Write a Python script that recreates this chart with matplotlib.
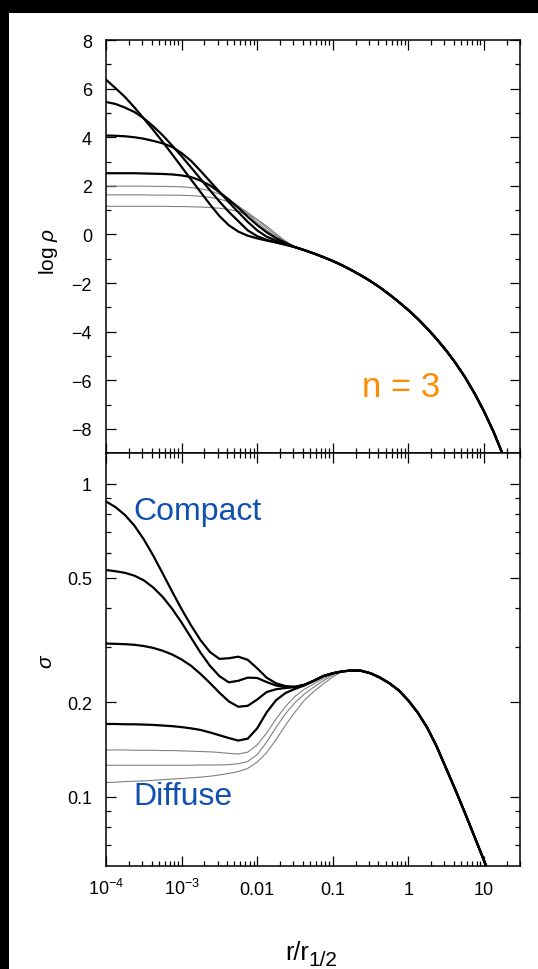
import numpy as np
import matplotlib
matplotlib.use('Agg')
import matplotlib.pyplot as plt
from matplotlib.ticker import FixedLocator, FixedFormatter, NullFormatter, LogLocator
from matplotlib.patches import Rectangle

plt.rcParams['font.family'] = ['Liberation Sans', 'DejaVu Sans']
plt.rcParams['mathtext.fontset'] = 'custom'
plt.rcParams['mathtext.rm'] = 'Liberation Sans'
plt.rcParams['mathtext.it'] = 'Liberation Sans:italic'
plt.rcParams['mathtext.bf'] = 'Liberation Sans:bold'

# ---- density panel: log10(r/r_1/2) where the readings were taken ----
logr_rho_core = [-4.0, -3.875, -3.75, -3.625, -3.5, -3.375, -3.25, -3.125, -3.0, -2.875,
                 -2.75, -2.625, -2.5, -2.375, -2.25, -2.125, -2.0, -1.875, -1.75, -1.625]
rho_A = [6.37, 6.02, 5.66, 5.23, 4.77, 4.30, 3.81, 3.30, 2.78, 2.26,
         1.75, 1.24, 0.76, 0.38, 0.12, -0.05, -0.16, -0.25, -0.33, -0.42]
rho_B = [5.45, 5.37, 5.22, 5.04, 4.78, 4.45, 4.08, 3.66, 3.22, 2.76,
         2.29, 1.82, 1.36, 0.93, 0.55, 0.17, -0.07, -0.22, -0.32, -0.42]
rho_C = [4.07, 4.06, 4.04, 4.00, 3.94, 3.85, 3.75, 3.60, 3.35, 3.03,
         2.62, 2.19, 1.76, 1.33, 0.92, 0.52, 0.17, -0.09, -0.25, -0.38]
rho_D = [2.52, 2.52, 2.52, 2.52, 2.51, 2.50, 2.49, 2.47, 2.43, 2.36,
         2.22, 2.02, 1.74, 1.44, 1.10, 0.73, 0.39, 0.09, -0.15, -0.34]
rho_E = [1.99, 1.99, 1.99, 1.99, 1.99, 1.98, 1.98, 1.97, 1.96, 1.93,
         1.88, 1.80, 1.66, 1.45, 1.17, 0.84, 0.50, 0.18, -0.10, -0.32]
rho_F = [1.63, 1.63, 1.63, 1.63, 1.63, 1.62, 1.62, 1.62, 1.61, 1.60,
         1.57, 1.53, 1.46, 1.34, 1.16, 0.91, 0.61, 0.27, -0.04, -0.30]
rho_G = [1.16, 1.16, 1.16, 1.16, 1.16, 1.16, 1.16, 1.15, 1.15, 1.14,
         1.13, 1.11, 1.08, 1.03, 0.95, 0.82, 0.62, 0.35, 0.03, -0.27]

logr_rho_out = [-1.5, -1.375, -1.25, -1.125, -1.0, -0.875, -0.75, -0.625, -0.5, -0.375,
                -0.25, -0.125, 0.0, 0.125, 0.25, 0.375, 0.5, 0.625, 0.75, 0.875,
                1.0, 1.125, 1.25, 1.375]
rho_out = [-0.52, -0.645, -0.78, -0.93, -1.09, -1.27, -1.47, -1.685, -1.92, -2.18,
           -2.47, -2.78, -3.11, -3.47, -3.87, -4.30, -4.77, -5.29, -5.87, -6.53,
           -7.27, -8.10, -9.05, -10.1]

# ---- dispersion panel: log10(sigma) ----
logr_sig_core = [-4.0, -3.875, -3.75, -3.625, -3.5, -3.375, -3.25, -3.125, -3.0, -2.875,
                 -2.75, -2.625, -2.5, -2.375, -2.25, -2.125, -2.0, -1.875, -1.75, -1.625,
                 -1.5, -1.375, -1.25, -1.125, -1.0]
sig_A = [-0.057, -0.075, -0.100, -0.134, -0.178, -0.230, -0.287, -0.345, -0.401, -0.453,
         -0.500, -0.538, -0.560, -0.558, -0.553, -0.563, -0.590, -0.620, -0.638, -0.647,
         -0.649, -0.643, -0.630, -0.615, -0.606]
sig_B = [-0.276, -0.280, -0.285, -0.294, -0.309, -0.332, -0.362, -0.400, -0.444, -0.492,
         -0.540, -0.582, -0.615, -0.635, -0.630, -0.620, -0.621, -0.634, -0.645, -0.650,
         -0.650, -0.643, -0.630, -0.615, -0.606]
sig_C = [-0.511, -0.512, -0.513, -0.515, -0.519, -0.525, -0.534, -0.546, -0.562, -0.582,
         -0.608, -0.637, -0.668, -0.696, -0.713, -0.710, -0.690, -0.666, -0.657, -0.653,
         -0.650, -0.643, -0.630, -0.615, -0.606]
sig_D = [-0.768, -0.768, -0.769, -0.769, -0.770, -0.771, -0.773, -0.775, -0.778, -0.782,
         -0.787, -0.795, -0.804, -0.813, -0.821, -0.815, -0.782, -0.731, -0.692, -0.669,
         -0.656, -0.645, -0.630, -0.615, -0.606]
sig_E = [-0.851, -0.851, -0.851, -0.852, -0.852, -0.852, -0.853, -0.853, -0.854, -0.855,
         -0.856, -0.857, -0.859, -0.862, -0.864, -0.858, -0.835, -0.797, -0.752, -0.712,
         -0.680, -0.657, -0.640, -0.623, -0.609]
sig_F = [-0.900, -0.900, -0.900, -0.900, -0.900, -0.900, -0.900, -0.900, -0.900, -0.900,
         -0.899, -0.899, -0.899, -0.898, -0.895, -0.888, -0.866, -0.826, -0.779, -0.735,
         -0.700, -0.672, -0.650, -0.630, -0.612]
sig_G = [-0.955, -0.954, -0.952, -0.951, -0.950, -0.948, -0.946, -0.944, -0.942, -0.940,
         -0.938, -0.935, -0.931, -0.926, -0.920, -0.910, -0.890, -0.860, -0.818, -0.772,
         -0.730, -0.692, -0.664, -0.640, -0.618]

logr_sig_out = [-0.875, -0.75, -0.625, -0.5, -0.375, -0.25, -0.125, 0.0, 0.125, 0.25,
                0.375, 0.5, 0.625, 0.75, 0.875, 1.0, 1.125, 1.25]
sig_out = [-0.600, -0.597, -0.598, -0.606, -0.620, -0.638, -0.661, -0.693, -0.732, -0.780,
           -0.840, -0.910, -0.980, -1.053, -1.128, -1.204, -1.280, -1.356]

black_rho = [rho_A, rho_B, rho_C, rho_D]
grey_rho = [rho_E, rho_F, rho_G]
black_sig = [sig_A, sig_B, sig_C, sig_D]
grey_sig = [sig_E, sig_F, sig_G]

xticks = [1e-4, 1e-3, 1e-2, 1e-1, 1, 10]
xticklabels = [r'$10^{-4}$', r'$10^{-3}$', '0.01', '0.1', '1', '10']
sig_ticks = [0.1, 0.2, 0.5, 1]
sig_ticklabels = ['0.1', '0.2', '0.5', '1']
sig_minor = [0.07, 0.08, 0.09, 0.3, 0.4, 0.6, 0.7, 0.8, 0.9]

W, H = 538, 970
fig = plt.figure(figsize=(W / 100, H / 100), dpi=100, facecolor='black')
fig.add_artist(Rectangle((8.6 / W, 0), 1, 1 - 13.7 / H, transform=fig.transFigure,
                         facecolor='white', edgecolor='none', zorder=-5))

left, right = 106, 520
ax1 = fig.add_axes([left / W, 1 - 454.3 / H, (right - left) / W, (454.3 - 41) / H])
ax2 = fig.add_axes([left / W, 1 - 867 / H, (right - left) / W, (867 - 454.3) / H])


def full(core_x, core_y, out_x, out_y):
    x = 10 ** np.array(core_x + out_x)
    y = np.array(core_y + out_y)
    return x, y


for ys in grey_rho:
    x, y = full(logr_rho_core, ys, logr_rho_out, rho_out)
    ax1.plot(x, y, color='0.5', lw=0.8)
for ys in black_rho:
    x, y = full(logr_rho_core, ys, logr_rho_out, rho_out)
    ax1.plot(x, y, color='black', lw=1.6)

for ys in grey_sig:
    x, y = full(logr_sig_core, ys, logr_sig_out, sig_out)
    ax2.plot(x, 10 ** y, color='0.5', lw=0.8)
for ys in black_sig:
    x, y = full(logr_sig_core, ys, logr_sig_out, sig_out)
    ax2.plot(x, 10 ** y, color='black', lw=1.6)

for ax in (ax1, ax2):
    ax.set_xscale('log')
    ax.set_xlim(1e-4, 30)
    ax.xaxis.set_major_locator(FixedLocator(xticks))
    ax.xaxis.set_minor_locator(LogLocator(base=10, subs=np.arange(2, 10), numticks=20))
    ax.xaxis.set_minor_formatter(NullFormatter())
    ax.tick_params(which='both', direction='in', top=True, right=True, width=0.9,
                   labelsize=13, colors='black')
    ax.tick_params(which='major', length=7)
    ax.tick_params(which='minor', length=3.3)
    ax.tick_params(axis='y', pad=10)
    for s in ax.spines.values():
        s.set_linewidth(1.1)

ax1.set_ylim(-9, 8)
ax1.yaxis.set_major_locator(FixedLocator(list(range(-8, 9, 2))))
ax1.yaxis.set_minor_locator(FixedLocator(list(range(-9, 9, 2))))
ax1.tick_params(axis='x', labelbottom=False)

ax2.set_yscale('log')
ax2.set_ylim(0.06, 1.25)
ax2.yaxis.set_major_locator(FixedLocator(sig_ticks))
ax2.yaxis.set_major_formatter(FixedFormatter(sig_ticklabels))
ax2.yaxis.set_minor_locator(FixedLocator(sig_minor))
ax2.yaxis.set_minor_formatter(NullFormatter())
ax2.set_xticklabels(xticklabels)
ax2.tick_params(axis='x', pad=20)
for t in ax2.get_xticklabels():
    t.set_verticalalignment('baseline')

ax1.text((440 - left) / (right - left), (454.3 - 396.7) / 413.3, 'n = 3',
         transform=ax1.transAxes, ha='right', va='baseline', fontsize=25, color='#ff8c00')
ax2.text((133.5 - left) / (right - left), (867 - 520) / 412.7, 'Compact',
         transform=ax2.transAxes, ha='left', va='baseline', fontsize=23, color='#1050b0')
ax2.text((133.5 - left) / (right - left), (867 - 805) / 412.7, 'Diffuse',
         transform=ax2.transAxes, ha='left', va='baseline', fontsize=23, color='#1050b0')

fig.text(48 / W, 1 - 252 / H, r'log $\rho$', rotation=90, ha='center', va='center', fontsize=15)
fig.text(47 / W, 1 - 661 / H, r'$\sigma$', rotation=90, ha='center', va='center', fontsize=15)
# x label: r/r with a near full-size 1/2 subscript, as in the original
fig.text(285 / W, 1 - 960 / H, 'r/r', ha='left', va='baseline', fontsize=18)
fig.text(308 / W, 1 - 966 / H, '1/2', ha='left', va='baseline', fontsize=15)

fig.savefig('out.png', dpi=100, facecolor='black')
